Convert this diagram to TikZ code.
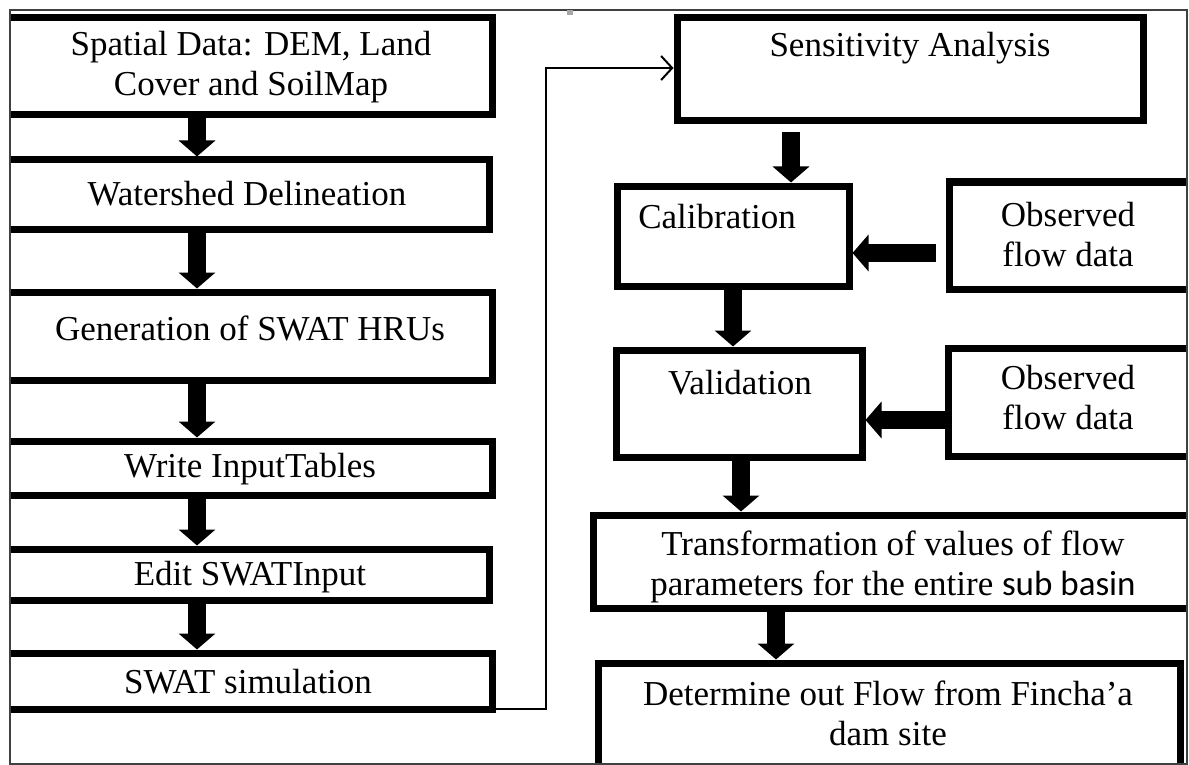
\documentclass[tikz,border=0pt]{standalone}
\usepackage{fontspec}
\setmainfont{Liberation Serif}
\newfontfamily\subfont{Carlito}
\usetikzlibrary{arrows.meta,fit}

\tikzset{
  box/.style={draw=black, line width=7pt, inner sep=0pt, fill=white},
  txt/.style={inner sep=0pt, align=center, font=\fontsize{35}{40}\selectfont},
  blk/.style={line width=18pt, -{Triangle[width=36pt,length=16pt]}},
  link/.style={line width=2.5pt, -{Straight Barb[length=11pt,width=24pt,line width=2pt]}},
  frame/.style={draw=black!75, line width=1.5pt}
}

\begin{document}
\begin{tikzpicture}[x=1pt,y=-1pt]
\useasboundingbox (0,0) rectangle (1189,765);

\begin{scope}
\clip (10,10) rectangle (1187,764);

% left column
\node[box, fit={(4,18) (492,115)}] (b1) {};
\node[box, fit={(4,160) (489,229)}] (b2) {};
\node[box, fit={(4,292) (492,380)}] (b3) {};
\node[box, fit={(4,441) (492,495)}] (b4) {};
\node[box, fit={(4,549) (489,600)}] (b5) {};
\node[box, fit={(4,653) (492,709)}] (b6) {};

\node[txt] (t1) at (251,67) {Spatial Data: DEM, Land\\Cover and SoilMap};
\node[txt] (t2) at (247,194) {Watershed Delineation};
\node[txt] (t3) at (250,328) {Generation of SWAT HRUs};
\node[txt] (t4) at (250,469) {Write InputTables};
\node[txt] (t5) at (250,577) {Edit SWATInput};
\node[txt] (t6) at (248,682) {SWAT simulation};

% right column
\node[box, fit={(677,18) (1143,121)}] (sa) {};
\node[box, fit={(617,186) (849,286)}] (cal) {};
\node[box, fit={(949,182) (1200,289)}] (ob1) {};
\node[box, fit={(616,350) (862,457)}] (val) {};
\node[box, fit={(948,348) (1200,456)}] (ob2) {};
\node[box, fit={(593,515) (1200,608)}] (tr) {};
\node[box, fit={(598,663) (1180,780)}] (det) {};

\node[txt] (t7) at (910,48) {Sensitivity Analysis};
\node[txt] (t8) at (717,217) {Calibration};
\node[txt] (t9) at (1068,235) {Observed\\flow data};
\node[txt] (t10) at (740,383) {Validation};
\node[txt] (t11) at (1068,398) {Observed\\flow data};
\node[txt] (t12) at (893,567) {Transformation of values of flow\\parameters for the entire {\subfont sub basin}};
\node[txt] (t13) at (888,713) {Determine out Flow from Fincha’a\\dam site};

% reference points for the block arrows
\coordinate (xl) at (197,0);
\coordinate (xs) at (791,0);
\coordinate (xc) at (733,0);
\coordinate (xv) at (741,0);
\coordinate (xt) at (776,0);
\coordinate (y1) at (0,253);
\coordinate (y2) at (0,420);

% block arrows, left column
\draw[blk] (b1.south -| xl) -- (b2.north -| xl);
\draw[blk] (b2.south -| xl) -- (b3.north -| xl);
\draw[blk] (b3.south -| xl) -- (b4.north -| xl);
\draw[blk] (b4.south -| xl) -- (b5.north -| xl);
\draw[blk] (b5.south -| xl) -- (b6.north -| xl);

% block arrows, right column
\draw[blk] ([yshift=-8pt]sa.south -| xs) -- (cal.north -| xs);
\draw[blk] (cal.south -| xc) -- (val.north -| xc);
\draw[blk] (val.south -| xv) -- (tr.north -| xv);
\draw[blk] (tr.south -| xt) -- (det.north -| xt);
\draw[blk] ([xshift=-10pt]ob1.west |- y1) -- (cal.east |- y1);
\draw[blk] (ob2.west |- y2) -- (val.east |- y2);

% link from the simulation to the sensitivity analysis
\coordinate (c2) at (546,68);
\draw[link] ([yshift=3.5pt]b6.south east) -| (c2) -- (sa.west |- c2);
\end{scope}

% outer frame
\draw[frame] (10,10) rectangle (1187,764);
\fill[black!35] (567,10) rectangle (573,15);
\end{tikzpicture}
\end{document}
